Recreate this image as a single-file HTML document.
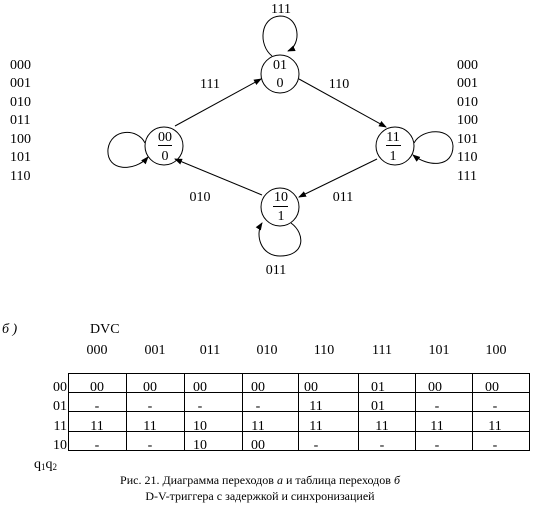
<!DOCTYPE html>
<html><head><meta charset="utf-8"><style>
html,body{margin:0;padding:0;background:#fff;}
svg{display:block;}
text{font-family:"Liberation Serif","DejaVu Serif",serif;font-size:14px;fill:#000;}
</style></head><body>
<svg width="538" height="511" viewBox="0 0 538 511" xmlns="http://www.w3.org/2000/svg">
<defs><marker id="a" markerWidth="8" markerHeight="8" refX="7" refY="4" orient="auto" markerUnits="userSpaceOnUse"><path d="M0,1 L8,4 L0,7z" fill="#000"/></marker></defs>
<g fill="none" stroke="#000" stroke-width="1">
<circle cx="280" cy="74" r="19"/>
<circle cx="164" cy="146" r="19"/>
<circle cx="395" cy="146" r="19"/>
<circle cx="280" cy="207" r="19"/>
<path d="M272,56 C258,45 260,17 280,16 C300,16 302,45 288,51" marker-end="url(#a)"/>
<path d="M145,143 C138,128 111,128 108,149 C106,172 135,172 148,157" marker-end="url(#a)"/>
<path d="M414,143 C422,128 452,127 453,146 C453,168 428,167 413,155" marker-end="url(#a)"/>
<path d="M291,223 C306,234 305,256 280,256 C260,256 255,234 262,223" marker-end="url(#a)"/>
<line x1="175" y1="126" x2="261" y2="79" marker-end="url(#a)"/>
<line x1="299" y1="79" x2="386" y2="127" marker-end="url(#a)"/>
<line x1="377" y1="159" x2="299" y2="197" marker-end="url(#a)"/>
<line x1="262" y1="195" x2="175" y2="159" marker-end="url(#a)"/>
</g>
<g text-anchor="middle">
<text x="281" y="13">111</text>
<text x="280" y="69">01</text><text x="280" y="87">0</text>
<text x="210" y="88">111</text><text x="339" y="88">110</text>
<text x="165" y="141">00</text><text x="165" y="160">0</text>
<text x="393" y="141">11</text><text x="393" y="160">1</text>
<text x="281" y="201">10</text><text x="281" y="220">1</text>
<text x="200" y="201">010</text><text x="343" y="201">011</text>
<text x="276" y="274">011</text>
</g>
<line x1="158" y1="145.5" x2="172" y2="145.5" stroke="#000"/>
<line x1="386" y1="145.5" x2="401" y2="145.5" stroke="#000"/>
<line x1="273" y1="206.5" x2="288" y2="206.5" stroke="#000"/>
<g text-anchor="start">
<text x="10" y="69">000</text><text x="10" y="87">001</text><text x="10" y="106">010</text><text x="10" y="124">011</text><text x="10" y="143">100</text><text x="10" y="161">101</text><text x="10" y="180">110</text>
<text x="457" y="69">000</text><text x="457" y="87">001</text><text x="457" y="106">010</text><text x="457" y="124">100</text><text x="457" y="143">101</text><text x="457" y="161">110</text><text x="457" y="180">111</text>
<text x="2" y="333" font-style="italic">б )</text>
<text x="90" y="333">DVC</text>
</g>
<g text-anchor="middle">
<text x="97" y="354">000</text><text x="155" y="354">001</text><text x="210" y="354">011</text><text x="267" y="354">010</text><text x="324" y="354">110</text><text x="382" y="354">111</text><text x="439" y="354">101</text><text x="496" y="354">100</text>
</g>
<g fill="none" stroke="#000">
<rect x="68.5" y="373.5" width="461" height="77"/>
<line x1="68" y1="392.5" x2="530" y2="392.5"/><line x1="68" y1="411.5" x2="530" y2="411.5"/><line x1="68" y1="431.5" x2="530" y2="431.5"/>
<line x1="126.5" y1="373" x2="126.5" y2="451"/><line x1="184.5" y1="373" x2="184.5" y2="451"/><line x1="242.5" y1="373" x2="242.5" y2="451"/><line x1="298.5" y1="373" x2="298.5" y2="451"/><line x1="358.5" y1="373" x2="358.5" y2="451"/><line x1="415.5" y1="373" x2="415.5" y2="451"/><line x1="472.5" y1="373" x2="472.5" y2="451"/>
</g>
<g text-anchor="end"><text x="67" y="391">00</text><text x="67" y="410">01</text><text x="67" y="430">11</text><text x="67" y="449">10</text></g>
<g text-anchor="middle">
<text x="97" y="391">00</text><text x="150" y="391">00</text><text x="200" y="391">00</text><text x="258" y="391">00</text><text x="311" y="391">00</text><text x="378" y="391">01</text><text x="435" y="391">00</text><text x="492" y="391">00</text>
<text x="97" y="410">-</text><text x="150" y="410">-</text><text x="200" y="410">-</text><text x="258" y="410">-</text><text x="316" y="410">11</text><text x="378" y="410">01</text><text x="437" y="410">-</text><text x="495" y="410">-</text>
<text x="97" y="430">11</text><text x="150" y="430">11</text><text x="200" y="430">10</text><text x="258" y="430">11</text><text x="316" y="430">11</text><text x="382" y="430">11</text><text x="437" y="430">11</text><text x="495" y="430">11</text>
<text x="97" y="449">-</text><text x="150" y="449">-</text><text x="200" y="449">10</text><text x="258" y="449">00</text><text x="316" y="449">-</text><text x="382" y="449">-</text><text x="437" y="449">-</text><text x="495" y="449">-</text>
</g>
<text x="34" y="468" font-size="12">q<tspan font-size="9" dy="2">1</tspan><tspan dy="-2">q</tspan><tspan font-size="9" dy="2">2</tspan></text>
<g text-anchor="middle">
<text x="260" y="484" style="font-size:12px">Рис. 21. Диаграмма переходов <tspan font-style="italic">а</tspan> и таблица переходов <tspan font-style="italic">б</tspan></text>
<text x="260" y="500" style="font-size:12px">D-V-триггера с задержкой и синхронизацией</text>
</g>
</svg>
</body></html>
